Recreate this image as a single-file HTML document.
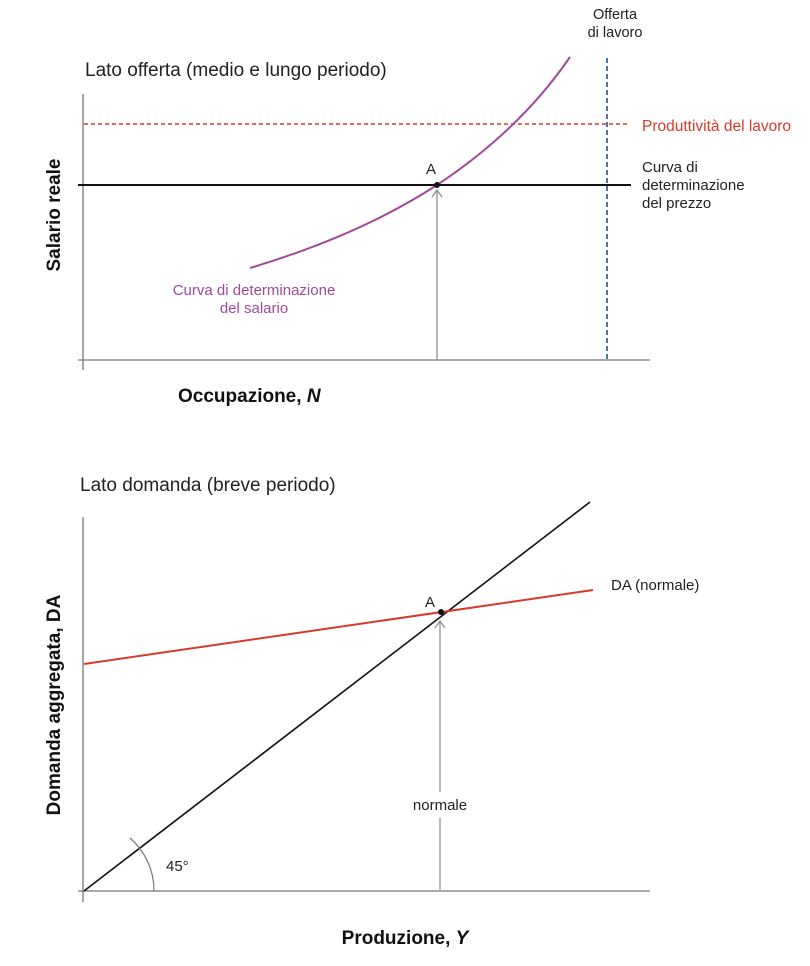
<!DOCTYPE html>
<html><head><meta charset="utf-8"><style>
html,body{margin:0;padding:0;background:#fff}
svg{display:block}
text{font-family:"Liberation Sans",sans-serif}
</style></head><body>
<svg width="810" height="966" viewBox="0 0 810 966" xmlns="http://www.w3.org/2000/svg">
<!-- TOP -->
<text x="85" y="76" font-size="19" fill="#222">Lato offerta (medio e lungo periodo)</text>
<line x1="83" y1="94" x2="83" y2="370" stroke="#777" stroke-width="1.3"/>
<line x1="78" y1="360" x2="650" y2="360" stroke="#777" stroke-width="1.3"/>
<line x1="84" y1="124" x2="630" y2="124" stroke="#d63a2a" stroke-width="1.6" stroke-dasharray="4,3"/>
<line x1="607" y1="58" x2="607" y2="360" stroke="#2a4a9a" stroke-width="1.6" stroke-dasharray="5,3"/>
<line x1="78" y1="185" x2="631" y2="185" stroke="#111" stroke-width="2"/>
<line x1="437" y1="360" x2="437" y2="190" stroke="#888" stroke-width="1.2"/>
<polyline points="432,197 437,190 442,197" fill="none" stroke="#888" stroke-width="1.2"/>
<path d="M250,268 Q360,235 437,185 Q520,130 570,57 " fill="none" stroke="#a04a9c" stroke-width="2"/>
<circle cx="437" cy="185" r="3" fill="#111"/>
<text x="431" y="174" font-size="15" text-anchor="middle" fill="#222">A</text>
<text x="615" y="19" font-size="14.5" text-anchor="middle" fill="#222">Offerta</text>
<text x="615" y="37" font-size="14.5" text-anchor="middle" fill="#222">di lavoro</text>
<text x="642" y="131" font-size="15.5" fill="#d63a2a">Produttività del lavoro</text>
<text x="642" y="172" font-size="15" fill="#222">Curva di</text>
<text x="642" y="190" font-size="15" fill="#222">determinazione</text>
<text x="642" y="208" font-size="15" fill="#222">del prezzo</text>
<text x="254" y="295" font-size="15" text-anchor="middle" fill="#a04a9c">Curva di determinazione</text>
<text x="254" y="313" font-size="15" text-anchor="middle" fill="#a04a9c">del salario</text>
<text transform="translate(60,215) rotate(-90)" font-size="19" font-weight="bold" text-anchor="middle" fill="#111">Salario reale</text>
<text x="178" y="402" font-size="19" font-weight="bold" fill="#111">Occupazione, <tspan font-style="italic">N</tspan></text>
<!-- BOTTOM -->
<text x="80" y="491" font-size="19" fill="#222">Lato domanda (breve periodo)</text>
<line x1="83" y1="517" x2="83" y2="902" stroke="#777" stroke-width="1.3"/>
<line x1="78" y1="891" x2="650" y2="891" stroke="#777" stroke-width="1.3"/>
<line x1="84" y1="891" x2="590" y2="502" stroke="#111" stroke-width="1.6"/>
<line x1="84" y1="664" x2="593" y2="590" stroke="#d63a2a" stroke-width="2"/>
<line x1="440" y1="890" x2="440" y2="818" stroke="#888" stroke-width="1.2"/>
<line x1="440" y1="792" x2="440" y2="621" stroke="#888" stroke-width="1.2"/>
<polyline points="435,628 440,621 445,628" fill="none" stroke="#888" stroke-width="1.2"/>
<circle cx="441" cy="612" r="3" fill="#111"/>
<text x="430" y="607" font-size="15" text-anchor="middle" fill="#222">A</text>
<text x="611" y="590" font-size="15" fill="#222">DA (normale)</text>
<text x="440" y="810" font-size="15" text-anchor="middle" fill="#222">normale</text>
<path d="M154,891 A70,70 0 0 0 130,838" fill="none" stroke="#777" stroke-width="1.2"/>
<text x="166" y="871" font-size="15" fill="#222">45°</text>
<text transform="translate(60,705) rotate(-90)" font-size="19" font-weight="bold" text-anchor="middle" fill="#111">Domanda aggregata, DA</text>
<text x="405" y="944" font-size="19" font-weight="bold" text-anchor="middle" fill="#111">Produzione, <tspan font-style="italic">Y</tspan></text>
</svg>
</body></html>
